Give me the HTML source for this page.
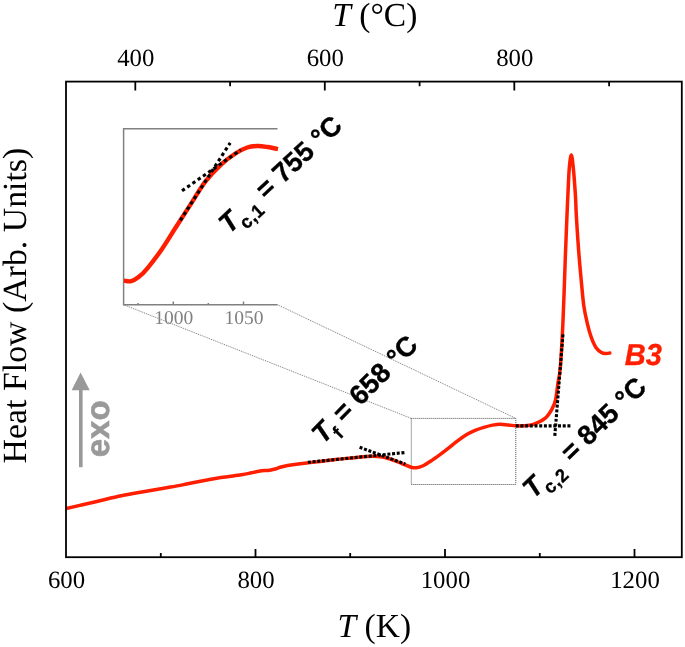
<!DOCTYPE html>
<html><head><meta charset="utf-8"><title>DSC B3</title>
<style>
html,body{margin:0;padding:0;background:#fff;}
body{width:685px;height:647px;overflow:hidden;}
svg{display:block;will-change:transform;transform:translateZ(0);}
text{text-rendering:geometricPrecision;}
.serif{font-family:"Liberation Serif",serif;}
.sans{font-family:"Liberation Sans",sans-serif;}
</style></head><body>
<svg width="685" height="647" viewBox="0 0 685 647">
<defs><clipPath id="cp"><rect x="66" y="82" width="616" height="475"/></clipPath></defs>
<rect width="685" height="647" fill="#fff"/>
<!-- zoom connector lines -->
<g stroke="#555" stroke-width="0.8" stroke-dasharray="1.1 0.9" fill="none">
<line x1="123.6" y1="304.7" x2="411.3" y2="418.4" stroke="#6a6a6a" stroke-width="0.85"/>
<line x1="277.4" y1="304.7" x2="515.8" y2="418.4" stroke="#6a6a6a" stroke-width="0.85"/>
<rect x="411.3" y="418.4" width="104.5" height="66.1" stroke-width="0.95"/>
</g>
<!-- inset frame -->
<g stroke="#808080" stroke-width="1.5" fill="none">
<path d="M277.5 128.8H123.6V304.7H277.5"/>
<line x1="173.3" y1="304.7" x2="173.3" y2="301.5"/>
<line x1="243.5" y1="304.7" x2="243.5" y2="301.5"/>
<line x1="138.1" y1="304.7" x2="138.1" y2="303"/>
<line x1="208.3" y1="304.7" x2="208.3" y2="303"/>
</g>
<g class="serif" font-size="19.5" fill="#808080" text-anchor="middle">
<text x="173.7" y="324.3">1000</text>
<text x="244.1" y="324.3">1050</text>
</g>
<!-- inset curve -->
<path d="M123.9 280.6C125.1 280.7 128.8 281.8 131.2 281.2C133.6 280.6 135.9 279.2 138.6 277.1C141.3 275.0 143.5 273.0 147.4 268.3C151.3 263.6 157.2 255.9 162.0 249.0C166.8 242.1 171.4 234.2 176.2 226.8C181.0 219.4 185.8 211.9 190.6 204.4C195.4 196.9 200.3 188.3 205.3 181.7C210.3 175.1 215.8 169.5 220.8 164.8C225.8 160.1 231.0 156.4 235.4 153.5C239.8 150.6 243.5 148.8 247.2 147.5C250.9 146.2 254.1 146.1 257.5 146.0C260.9 145.9 264.3 146.5 267.7 147.0C271.1 147.5 276.3 148.8 278.0 149.2" fill="none" stroke="#ff1e00" stroke-width="4.4" stroke-linejoin="round"/>
<g stroke="#000" stroke-width="3.1" stroke-dasharray="3.4 3" fill="none">
<line x1="180.3" y1="220.4" x2="230.2" y2="142.8"/>
<line x1="182" y1="190.8" x2="240.8" y2="149.9"/>
</g>
<!-- main curve -->
<path d="M64.0 509.0C64.3 508.9 63.3 509.1 66.0 508.5C68.7 507.9 74.6 506.6 80.4 505.3C86.2 504.0 94.1 502.1 100.9 500.5C107.7 498.9 114.5 497.2 121.3 495.8C128.1 494.4 135.0 493.2 141.8 492.0C148.6 490.8 155.4 489.7 162.2 488.5C169.0 487.3 176.2 486.1 182.6 484.9C189.0 483.7 194.0 482.4 200.4 481.2C206.8 480.0 214.1 478.7 220.9 477.6C227.7 476.5 236.2 475.6 241.3 474.8C246.4 474.0 248.1 473.5 251.5 472.8C254.9 472.1 259.0 471.2 261.7 470.8C264.4 470.4 265.8 470.8 267.9 470.5C269.9 470.2 271.6 469.9 274.0 469.3C276.4 468.7 278.8 467.6 282.2 466.8C285.6 466.0 290.3 465.2 294.4 464.6C298.5 464.0 302.4 463.5 306.7 463.0C311.0 462.5 314.9 462.0 320.0 461.4C325.1 460.8 329.8 460.1 337.6 459.3C345.4 458.5 360.0 456.9 366.8 456.4C373.6 455.9 374.6 456.0 378.5 456.4C382.4 456.8 386.2 457.8 390.1 459.0C394.0 460.2 398.3 462.2 401.8 463.6C405.3 465.0 408.7 466.5 411.1 467.2C413.5 467.9 414.5 468.0 416.4 467.8C418.3 467.6 420.0 467.2 422.5 466.0C425.0 464.8 428.4 462.6 431.3 460.7C434.2 458.8 437.1 456.7 440.0 454.6C442.9 452.5 445.9 450.2 448.8 447.9C451.7 445.6 454.7 443.1 457.6 440.9C460.5 438.7 463.4 436.6 466.3 434.8C469.2 433.1 472.2 431.6 475.1 430.4C478.0 429.2 480.9 428.3 483.8 427.4C486.7 426.5 489.8 425.6 492.6 425.1C495.4 424.6 497.9 424.3 500.5 424.3C503.1 424.3 505.9 424.8 508.4 425.0C510.9 425.2 513.1 425.7 515.7 425.8C518.3 425.9 521.0 426.1 524.0 425.8C527.0 425.6 529.9 425.5 533.4 424.3C536.9 423.1 541.9 420.9 545.0 418.4C548.1 415.8 550.2 412.1 552.0 409.0C553.8 405.9 554.6 404.0 555.6 399.7C556.6 395.4 557.1 388.6 557.9 383.4C558.7 378.2 559.4 377.3 560.2 368.7C561.0 360.1 561.8 345.2 562.5 331.6C563.2 318.0 563.8 300.7 564.3 287.1C564.8 273.5 565.1 262.0 565.6 250.0C566.1 238.0 566.6 224.2 567.0 215.0C567.4 205.8 567.5 202.8 567.9 195.0C568.3 187.2 568.7 174.7 569.3 168.0C569.9 161.3 570.6 155.0 571.3 155.0C572.0 155.0 572.6 161.3 573.3 168.0C574.0 174.7 574.9 187.2 575.4 195.0C575.9 202.8 575.8 205.8 576.3 215.0C576.8 224.2 577.8 239.5 578.6 250.0C579.4 260.5 580.1 268.5 581.0 277.8C581.9 287.1 582.7 298.0 583.8 305.7C584.9 313.4 586.3 318.9 587.5 324.2C588.7 329.4 589.8 333.3 591.2 337.2C592.6 341.1 594.2 344.9 595.9 347.4C597.6 349.9 599.7 351.4 601.4 352.4C603.1 353.4 604.7 353.4 606.1 353.5C607.5 353.6 609.2 353.1 609.8 353.0" fill="none" stroke="#ff1e00" stroke-width="3.5" stroke-linejoin="round" stroke-linecap="round" clip-path="url(#cp)"/>
<g stroke="#000" stroke-width="3.1" stroke-dasharray="3 1.7" fill="none">
<line x1="307.9" y1="462.3" x2="405.4" y2="452.5"/>
<line x1="359.6" y1="447.3" x2="405.3" y2="464"/>
<line x1="515.7" y1="425.9" x2="571" y2="425.9"/>
<line x1="554.8" y1="435.8" x2="563.1" y2="332.8"/>
</g>
<!-- frame -->
<g stroke="#000" stroke-width="1.8" fill="none">
<rect x="66" y="81.6" width="615.8" height="475.6"/>
<line x1="255.5" y1="557.2" x2="255.5" y2="549"/><line x1="445.0" y1="557.2" x2="445.0" y2="549"/><line x1="634.5" y1="557.2" x2="634.5" y2="549"/><line x1="160.8" y1="557.2" x2="160.8" y2="553"/><line x1="350.2" y1="557.2" x2="350.2" y2="553"/><line x1="539.8" y1="557.2" x2="539.8" y2="553"/><line x1="135.3" y1="81.6" x2="135.3" y2="90.5"/><line x1="324.8" y1="81.6" x2="324.8" y2="90.5"/><line x1="514.3" y1="81.6" x2="514.3" y2="90.5"/><line x1="230.1" y1="81.6" x2="230.1" y2="86.2"/><line x1="419.6" y1="81.6" x2="419.6" y2="86.2"/><line x1="609.1" y1="81.6" x2="609.1" y2="86.2"/>
</g>
<g class="serif" font-size="24.8" fill="#000">
<text x="66.5" y="588.3" text-anchor="middle">600</text><text x="256.0" y="588.3" text-anchor="middle">800</text><text x="445.5" y="588.3" text-anchor="middle">1000</text><text x="635.0" y="588.3" text-anchor="middle">1200</text><text x="135.8" y="66.3" text-anchor="middle">400</text><text x="325.3" y="66.3" text-anchor="middle">600</text><text x="514.8" y="66.3" text-anchor="middle">800</text>
</g>
<g class="serif" font-size="33.5" fill="#000">
<text x="332.3" y="25.6"><tspan font-style="italic">T</tspan> (°C)</text>
<text x="337.6" y="636.8"><tspan font-style="italic">T</tspan> (K)</text>
<text transform="translate(26.2,463.4) rotate(-90)" font-size="33.85">Heat Flow (Arb. Units)</text>
</g>
<!-- exo arrow -->
<g fill="#999" stroke="none">
<rect x="79" y="388" width="3.6" height="79.2"/>
<path d="M80.6 372.6L89.7 390.3H71.6Z"/>
<text class="sans" font-weight="bold" font-size="33" stroke="#999" stroke-width="0.6" transform="translate(108.5,457.3) rotate(-90)">exo</text>
</g>
<!-- annotations -->
<g class="sans" font-weight="bold" font-size="27.5" fill="#000" stroke="#000" stroke-width="0.35">
<text transform="translate(229.2,234.5) rotate(-43) scale(0.985,1)"><tspan font-style="italic">T</tspan><tspan font-size="18.5" dy="8.5" dx="-1" letter-spacing="0.6">c,1</tspan><tspan dy="-8.5" dx="0"> = 755 °C</tspan></text>
<text transform="translate(323,444.8) rotate(-45.5) scale(1,1)"><tspan font-style="italic">T</tspan><tspan font-size="18.5" dy="8.5" dx="-1">f</tspan><tspan dy="-8.5"> = 658 °C</tspan></text>
<text transform="translate(533.5,499.5) rotate(-44) scale(0.985,1)"><tspan font-style="italic">T</tspan><tspan font-size="18.5" dy="8.5" dx="-1" letter-spacing="0.6">c,2</tspan><tspan dy="-8.5" dx="2.5"> = 845 °C</tspan></text>
<text transform="translate(624.8,364.5) scale(0.96,1)" fill="#ff1e00" stroke="#ff1e00" font-style="italic" font-size="30.3">B3</text>
</g>
</svg>
</body></html>
